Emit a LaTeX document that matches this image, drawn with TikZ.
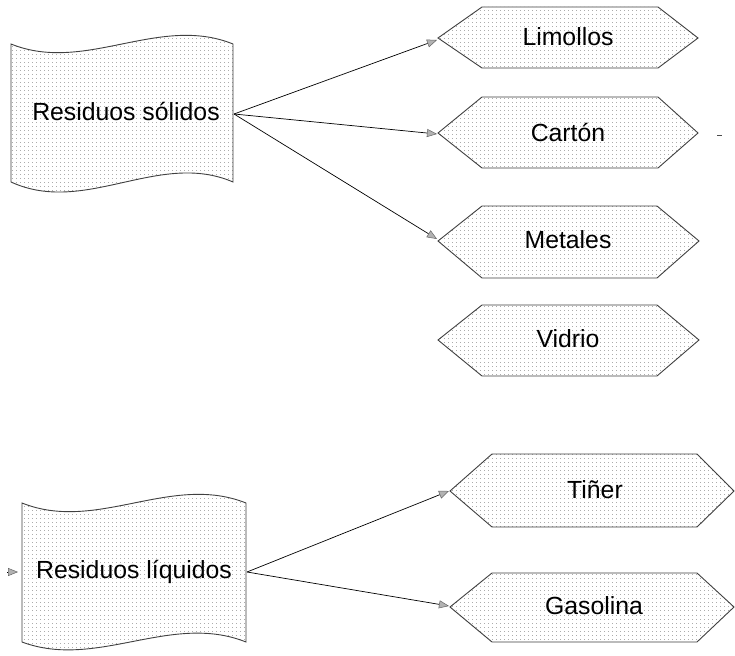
\documentclass[tikz,border=0pt]{standalone}
\usepackage{fontspec}
\setmainfont{Liberation Sans}
\usetikzlibrary{arrows.meta,patterns.meta}
\tikzdeclarepattern{
  name=sketchdots,
  type=uncolored,
  bounding box={(-0.6pt,-0.6pt) and (0.6pt,0.6pt)},
  tile size={(4pt,4pt)},
  code={\fill (-0.5pt,-0.5pt) rectangle (0.5pt,0.5pt);}
}
\tikzset{
  shapefill/.style={draw=black!75, line width=0.9pt, pattern=sketchdots, pattern color=black!50},
  lbl/.style={inner sep=0pt, font=\fontsize{24.8}{29}\selectfont},
  arr/.style={draw=black, line width=0.7pt, -{Triangle[length=10pt,width=8pt,fill=gray!60,color=gray!80!black,line width=0.5pt]}},
}
\begin{document}
\begin{tikzpicture}[x=1pt,y=-1pt]
\fill[white] (0,0) rectangle (735,655);
\useasboundingbox (0,0) rectangle (735,655);

% wavy document shapes
\path[shapefill] (11,44) .. controls (85,74) and (159,14) .. (233,44)
  -- (233,182) .. controls (159,150) and (85,216) .. (11,182) -- cycle;
\path[shapefill] (22,503) .. controls (97,533) and (171,473) .. (246,503)
  -- (246,642) .. controls (171,612) and (97,670) .. (22,642) -- cycle;

\node[lbl] (sol) at (126,111) {Residuos sólidos};
\node[lbl] (liq) at (134,572) {Residuos líquidos};
\coordinate (sol-e) at (234,114);
\coordinate (liq-e) at (247,572);
\coordinate (liq-w) at (22,572);
\coordinate (liq-in) at (7,572);

% hexagons
\path[shapefill] (438,38) -- (482,7) -- (658,7) -- (698,38) -- (658,68) -- (482,68) -- cycle;
\path[shapefill] (438,133) -- (482,97) -- (658,97) -- (698,133) -- (658,168) -- (482,168) -- cycle;
\path[shapefill] (438,241) -- (482,206) -- (657,206) -- (699,241) -- (657,278) -- (482,278) -- cycle;
\path[shapefill] (438,340) -- (482,305) -- (657,305) -- (699,340) -- (657,376) -- (482,376) -- cycle;
\path[shapefill] (450,491) -- (492,454) -- (697,454) -- (734,491) -- (697,527) -- (492,527) -- cycle;
\path[shapefill] (450,607) -- (492,573) -- (697,573) -- (734,607) -- (697,642) -- (492,642) -- cycle;

\node[lbl] (lim) at (568,37) {Limollos};
\node[lbl] (car) at (568,132) {Cartón};
\node[lbl] (met) at (568,240) {Metales};
\node[lbl] (vid) at (568,339) {Vidrio};
\node[lbl] (tin) at (595,490) {Tiñer};
\node[lbl] (gas) at (594,606) {Gasolina};

\coordinate (lim-w) at (437,40);
\coordinate (car-w) at (437,134);
\coordinate (met-w) at (437,239);
\coordinate (tin-w) at (449,491);
\coordinate (gas-w) at (449,606);

% connectors
\draw[arr] (sol-e) -- (lim-w);
\draw[arr] (sol-e) -- (car-w);
\draw[arr] (sol-e) -- (met-w);
\draw[arr] (liq-e) -- (tin-w);
\draw[arr] (liq-e) -- (gas-w);
\draw[arr, shorten >=4pt] (liq-in) -- (liq-w);

% stray mark
\coordinate (dash-a) at (717,135);
\coordinate (dash-b) at (722,135);
\draw[black!70, line width=0.8pt] (dash-a) -- (dash-b);
\end{tikzpicture}
\end{document}
